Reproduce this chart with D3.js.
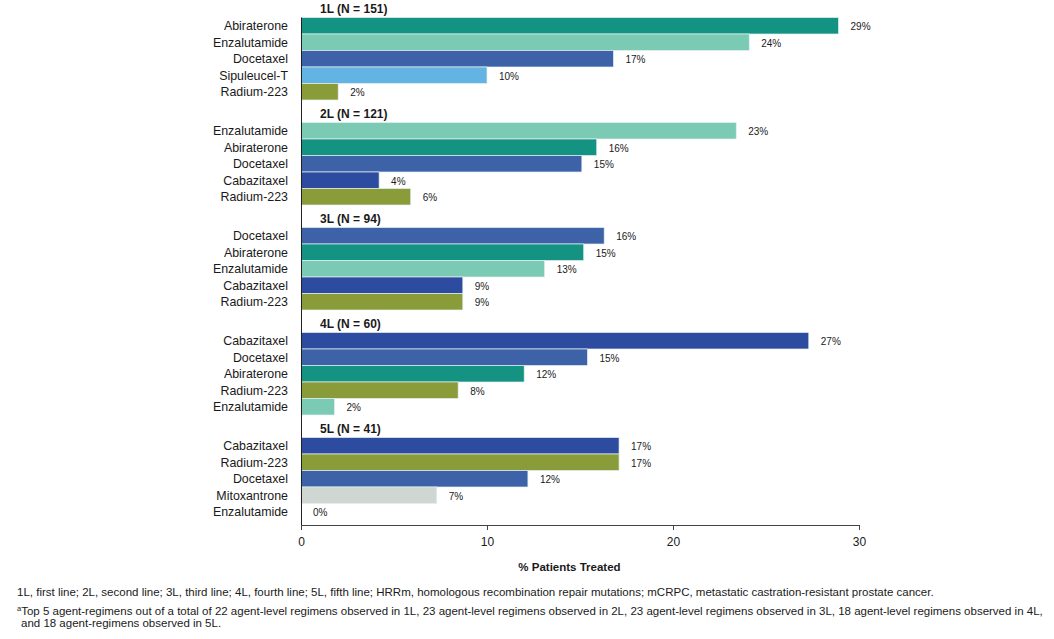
<!DOCTYPE html>
<html>
<head>
<meta charset="utf-8">
<script src="https://cdn.jsdelivr.net/npm/d3@7"></script>
<style>
  html, body { margin: 0; padding: 0; background: #fff; }
  svg { display: block; font-family: "Liberation Sans", Arial, sans-serif; }
</style>
</head>
<body>
<svg id="chart" width="1054" height="639"></svg>
<script>
// ---- data ----
const lineTitles = ["1L (N = 151)", "2L (N = 121)", "3L (N = 94)", "4L (N = 60)", "5L (N = 41)"];

const agents1L = ["Abiraterone", "Enzalutamide", "Docetaxel", "Sipuleucel-T", "Radium-223"];
const values1L = [28.9, 24.1, 16.8, 10.0, 2.0];

const agents2L = ["Enzalutamide", "Abiraterone", "Docetaxel", "Cabazitaxel", "Radium-223"];
const values2L = [23.4, 15.9, 15.1, 4.2, 5.9];

const agents3L = ["Docetaxel", "Abiraterone", "Enzalutamide", "Cabazitaxel", "Radium-223"];
const values3L = [16.3, 15.2, 13.1, 8.7, 8.7];

const agents4L = ["Cabazitaxel", "Docetaxel", "Abiraterone", "Radium-223", "Enzalutamide"];
const values4L = [27.3, 15.4, 12.0, 8.45, 1.8];

const agents5L = ["Cabazitaxel", "Radium-223", "Docetaxel", "Mitoxantrone", "Enzalutamide"];
const values5L = [17.1, 17.1, 12.2, 7.3, 0];

const xTicks = [0, 10, 20, 30];
const xTitle = "% Patients Treated";

const agentNames = ["Abiraterone", "Enzalutamide", "Docetaxel", "Sipuleucel-T", "Radium-223", "Cabazitaxel", "Mitoxantrone"];
const agentColors = ["#149383", "#7bcab4", "#3d62a8", "#63b4e2", "#8a9b3a", "#2e4c9f", "#d0d6d2"];

const footnote1 = "1L, first line; 2L, second line; 3L, third line; 4L, fourth line; 5L, fifth line; HRRm, homologous recombination repair mutations; mCRPC, metastatic castration-resistant prostate cancer.";
const footnote2 = "Top 5 agent-regimens out of a total of 22 agent-level regimens observed in 1L, 23 agent-level regimens observed in 2L, 23 agent-level regimens observed in 3L, 18 agent-level regimens observed in 4L,";
const footnote3 = "and 18 agent-regimens observed in 5L.";

// ---- build ----
const groups = [
  {title: lineTitles[0], agents: agents1L, values: values1L},
  {title: lineTitles[1], agents: agents2L, values: values2L},
  {title: lineTitles[2], agents: agents3L, values: values3L},
  {title: lineTitles[3], agents: agents4L, values: values4L},
  {title: lineTitles[4], agents: agents5L, values: values5L}
];

const svg = d3.select("#chart");
const textColor = "#1a1a1a";

const x = d3.scaleLinear().domain([0, 30]).range([301, 859]);
const yGroup = d3.scaleBand().domain(lineTitles).range([0, 525]).paddingInner(0).paddingOuter(0);
const yInner = d3.scaleBand().domain(d3.range(5)).range([17.5, 100]).padding(0);
const color = d3.scaleOrdinal().domain(agentNames).range(agentColors);

const g = svg.append("g");

groups.forEach(grp => {
  const gy = yGroup(grp.title);
  const gg = g.append("g").attr("transform", `translate(0,${gy})`);
  gg.append("text")
    .attr("x", 320).attr("y", 9.5)
    .attr("dominant-baseline", "middle")
    .attr("font-size", 12).attr("font-weight", "bold")
    .attr("fill", textColor)
    .text(grp.title);

  const rows = grp.agents.map((a, i) => ({agent: a, value: grp.values[i], i}));

  gg.selectAll("rect.bar").data(rows).enter().append("rect")
    .attr("class", "bar")
    .attr("x", x(0))
    .attr("y", d => yInner(d.i))
    .attr("width", d => x(d.value) - x(0))
    .attr("height", yInner.bandwidth())
    .attr("fill", d => color(d.agent))
    .attr("stroke", d => d.value > 0 ? "#e4f0f2" : "none")
    .attr("stroke-width", 0.7);

  gg.selectAll("text.cat").data(rows).enter().append("text")
    .attr("class", "cat")
    .attr("x", 288)
    .attr("y", d => yInner(d.i) + yInner.bandwidth() / 2 + 1)
    .attr("text-anchor", "end")
    .attr("dominant-baseline", "middle")
    .attr("font-size", 12.4)
    .attr("fill", textColor)
    .text(d => d.agent);

  gg.selectAll("text.val").data(rows).enter().append("text")
    .attr("class", "val")
    .attr("x", d => x(d.value) + 12)
    .attr("y", d => yInner(d.i) + yInner.bandwidth() / 2 + 2)
    .attr("dominant-baseline", "middle")
    .attr("font-size", 10)
    .attr("fill", textColor)
    .text(d => Math.round(d.value) + "%");
});

// y axis line (no ticks)
const yAxisScale = d3.scaleLinear().domain([0, 1]).range([17, 525]);
svg.append("g")
  .attr("transform", `translate(${x(0)},0)`)
  .call(d3.axisLeft(yAxisScale).tickValues([]).tickSizeOuter(0))
  .call(a => a.select(".domain").attr("stroke", "#222"));

// x axis
const xAxis = svg.append("g")
  .attr("transform", "translate(0,525)")
  .call(d3.axisBottom(x).tickValues(xTicks).tickSize(5).tickSizeOuter(0).tickPadding(7));
xAxis.select(".domain").attr("stroke", "#444");
xAxis.selectAll(".tick line").attr("stroke", "#444");
xAxis.selectAll(".tick text")
  .attr("font-family", "Liberation Sans, Arial, sans-serif")
  .attr("font-size", 12).attr("fill", textColor);

svg.append("text")
  .attr("x", 569.5).attr("y", 571)
  .attr("text-anchor", "middle")
  .attr("font-size", 11.5).attr("font-weight", "bold")
  .attr("fill", textColor)
  .text(xTitle);

// footnotes
const fn = svg.append("g").attr("fill", textColor).attr("font-size", 11.5);
fn.append("text").attr("x", 17).attr("y", 596).text(footnote1);
const t2 = fn.append("text").attr("x", 17).attr("y", 614.5);
t2.append("tspan").attr("font-size", 7.5).attr("dy", -3.5).text("a");
t2.append("tspan").attr("dy", 3.5).text(footnote2);
fn.append("text").attr("x", 21).attr("y", 626.5).text(footnote3);
</script>
</body>
</html>
